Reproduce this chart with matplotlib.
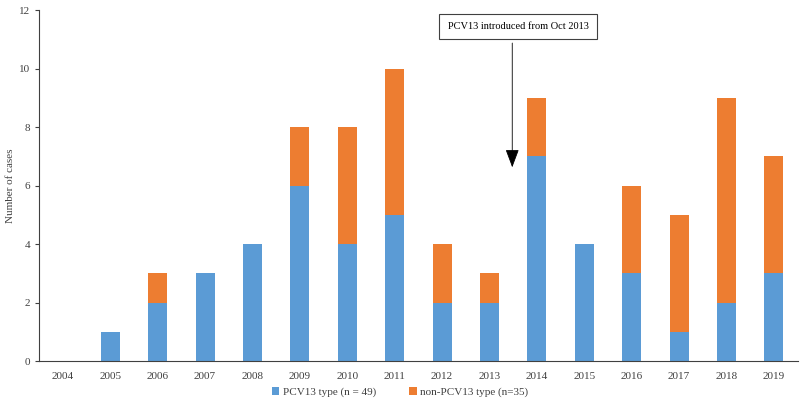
import numpy as np
import matplotlib.pyplot as plt

plt.rcParams['font.family'] = ['Liberation Serif', 'DejaVu Serif']

years = ['2004', '2005', '2006', '2007', '2008', '2009', '2010', '2011',
         '2012', '2013', '2014', '2015', '2016', '2017', '2018', '2019']
pcv13 = [0, 1, 2, 3, 4, 6, 4, 5, 2, 2, 7, 4, 3, 1, 2, 3]
non_pcv13 = [0, 0, 1, 0, 0, 2, 4, 5, 2, 1, 2, 0, 3, 4, 7, 4]

blue = '#5B9BD5'
orange = '#ED7D31'

fig = plt.figure(figsize=(8, 4.07), dpi=100)
ax = fig.add_axes([0.049, 0.113, 0.948, 0.862])

x = np.arange(len(years))
ax.bar(x, pcv13, width=0.4, color=blue, linewidth=0,
       label='PCV13 type (n = 49)')
ax.bar(x, non_pcv13, width=0.4, bottom=pcv13, color=orange, linewidth=0,
       label='non-PCV13 type (n=35)')

ax.set_xlim(-0.5, 15.5)
ax.set_ylim(0, 12)
ax.set_yticks(range(0, 13, 2))
ax.set_xticks(x)
ax.set_xticklabels(years)
ax.tick_params(axis='x', length=0, labelsize=8, colors='#404040', pad=8)
ax.tick_params(axis='y', length=3, labelsize=8, colors='#404040', direction='out')
for s in ['top', 'right']:
    ax.spines[s].set_visible(False)
ax.spines['left'].set_color('#404040')
ax.spines['bottom'].set_color('#404040')
ax.set_ylabel('Number of cases', fontsize=8, color='#404040', labelpad=3)

# introduction annotation
ax.annotate('', xy=(9.48, 6.53), xytext=(9.48, 10.97),
            arrowprops=dict(arrowstyle='-|>,head_length=0.8,head_width=0.3',
                            color='black', lw=0.6, mutation_scale=14))
ax.text(9.6, 11.44, 'PCV13 introduced from Oct 2013', fontsize=7.5,
        ha='center', va='center',
        bbox=dict(boxstyle='square,pad=0.8', facecolor='white',
                  edgecolor='#404040', linewidth=0.8))

fig.legend(loc='lower center', bbox_to_anchor=(0.5, 0.0), ncol=2, frameon=False,
           fontsize=8, handlelength=0.7, handleheight=0.7, handletextpad=0.3,
           columnspacing=3, labelcolor='#404040')

fig.savefig('out.png', dpi=100)
